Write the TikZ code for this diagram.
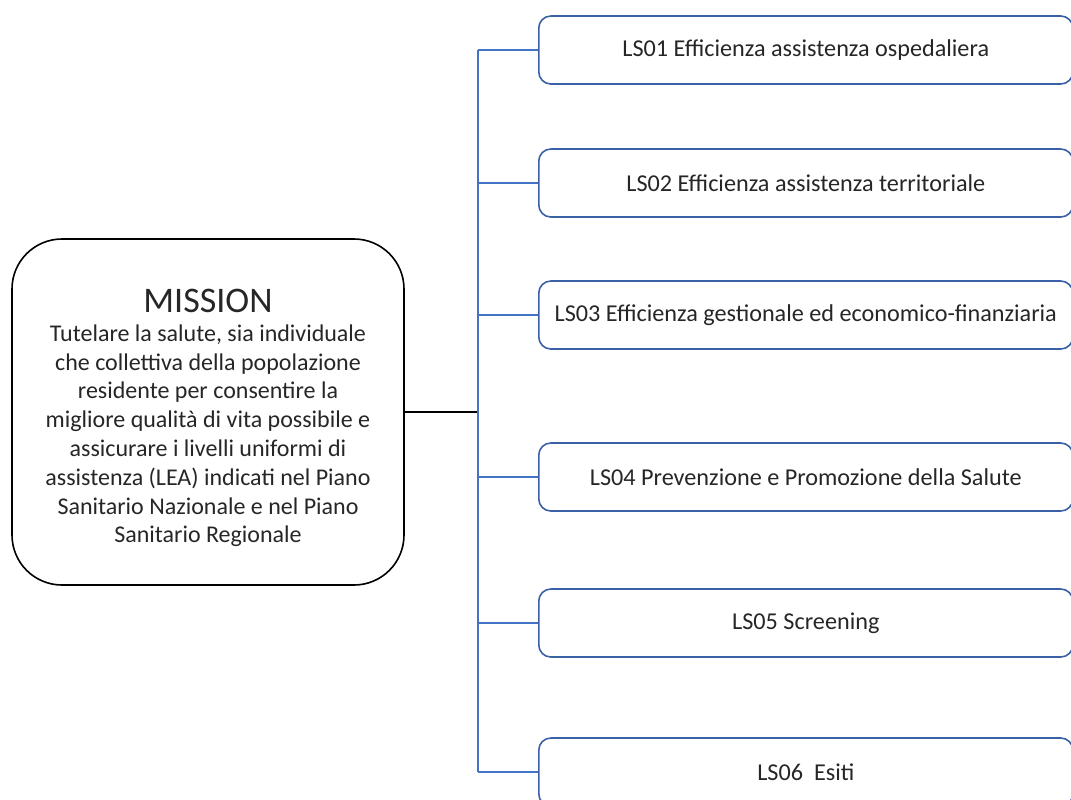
\documentclass[tikz,border=0pt]{standalone}
\usepackage{fontspec}
\setmainfont{Carlito}
\usetikzlibrary{positioning}
\definecolor{lsblue}{RGB}{58,96,166}
\definecolor{linkblue}{RGB}{68,114,196}
\definecolor{lstext}{RGB}{38,38,38}

\begin{document}
\begin{tikzpicture}[x=0.5pt,y=-0.5pt,
  mission/.style={draw=black, line width=0.8pt, rounded corners=25pt,
    minimum width=196pt, minimum height=173pt, align=center, inner sep=0pt,
    text=lstext, font=\fontsize{12}{14.4}\selectfont},
  lsbox/.style={draw=lsblue, line width=0.8pt, rounded corners=6pt,
    minimum width=267pt, minimum height=34pt, anchor=west,
    text=lstext, font=\fontsize{12.1}{14}\selectfont},
  link/.style={draw=linkblue, line width=0.7pt}]
\useasboundingbox (0,0) rectangle (1071,799);
\clip (0,0) rectangle (1071,799);

% mission box
\node[mission] (mission) at (208,412) {};
\node[align=center, inner sep=0pt, text=lstext, font=\fontsize{12}{14.4}\selectfont]
  (missiontext) at (208,418) {{\fontsize{18}{23}\selectfont MISSION}\\
  Tutelare la salute, sia individuale\\
  che collettiva della popolazione\\
  residente per consentire la\\
  migliore qualità di vita possibile e\\
  assicurare i livelli uniformi di\\
  assistenza (LEA) indicati nel Piano\\
  Sanitario Nazionale e nel Piano\\
  Sanitario Regionale};

% obiettivi
\node[lsbox] (ls1) at (538,50)  {LS01 Efficienza assistenza ospedaliera};
\node[lsbox] (ls2) at (538,183) {LS02 Efficienza assistenza territoriale};
\node[lsbox] (ls3) at (538,315) {LS03 Efficienza gestionale ed economico-finanziaria};
\node[lsbox] (ls4) at (538,477) {LS04 Prevenzione e Promozione della Salute};
\node[lsbox] (ls5) at (538,623) {LS05 Screening};
\node[lsbox] (ls6) at (538,772) {LS06~ Esiti};

\coordinate (spine) at (478,412);
\draw[line width=0.8pt] (mission.east) -- (spine);
\draw[link] (ls1.west -| spine) -- (ls6.west -| spine);
\foreach \i in {1,...,6}
  \draw[link] (ls\i.west) -- (ls\i.west -| spine);

\end{tikzpicture}
\end{document}
